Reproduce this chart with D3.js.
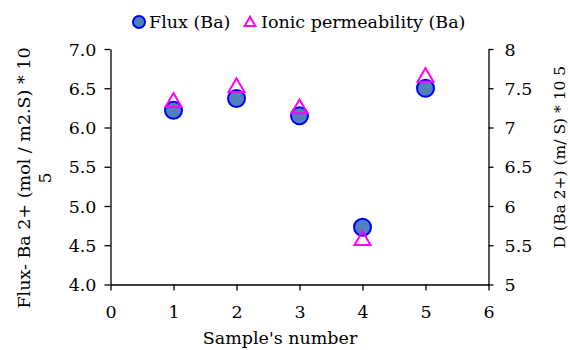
<!DOCTYPE html>
<html><head><meta charset="utf-8">
<script src="https://cdn.jsdelivr.net/npm/d3@7"></script>
<style>
body{margin:0;background:#fff;}
</style></head>
<body><svg id="c" width="570" height="350"></svg>
<script>
const samples = [1, 2, 3, 4, 5];
const flux = [6.22, 6.37, 6.15, 4.73, 6.50];
const permeability = [7.34, 7.53, 7.26, 5.58, 7.66];
const xTicks = [0, 1, 2, 3, 4, 5, 6];
const leftTicks = [4.0, 4.5, 5.0, 5.5, 6.0, 6.5, 7.0];
const rightTicks = [5, 5.5, 6, 6.5, 7, 7.5, 8];

const FONT = "'DejaVu Serif', serif";
const svg = d3.select("#c");
const m = {l:110.5, r:488.5, t:49, b:284.5};
const x = d3.scaleLinear().domain([0,6]).range([m.l, m.r]);
const yL = d3.scaleLinear().domain([4,7]).range([m.b, m.t]);
const yR = d3.scaleLinear().domain([5,8]).range([m.b, m.t]);
const fs = 17.5;

const xa = svg.append("g").attr("transform",`translate(0,${m.b})`)
  .call(d3.axisBottom(x).tickValues(xTicks).tickFormat(d3.format("d")).tickSize(6).tickSizeOuter(0));
xa.selectAll("text").attr("dy",0).attr("y",33);
const la = svg.append("g").attr("transform",`translate(${m.l},0)`)
  .call(d3.axisLeft(yL).tickValues(leftTicks).tickFormat(d3.format(".1f")).tickSize(6).tickSizeOuter(0));
la.selectAll("text").attr("x",-14).attr("dy","0.35em");
const ra = svg.append("g").attr("transform",`translate(${m.r},0)`)
  .call(d3.axisRight(yR).tickValues(rightTicks).tickFormat(d=>String(d)).tickSize(5).tickSizeOuter(0));
ra.selectAll("text").attr("x",16).attr("dy","0.35em");
svg.selectAll(".domain").attr("stroke","#000").attr("stroke-width",1.3);
svg.selectAll(".tick line").attr("stroke","#000").attr("stroke-width",1.3);

svg.append("text").attr("x",280).attr("y",344).attr("text-anchor","middle").text("Sample's number");
const lt = svg.append("text").attr("transform","translate(30,178) rotate(-90)").attr("text-anchor","middle");
lt.append("tspan").attr("x",0).attr("y",0).text("Flux- Ba 2+ (mol / m2.S) * 10");
lt.append("tspan").attr("x",0).attr("y",21).text("5");
const rt = svg.append("text").attr("class","rt").attr("transform","translate(565,157) rotate(-90)").attr("text-anchor","middle").text("D (Ba 2+) (m/ S) * 10 5");

const tri = d3.symbol().type(d3.symbolTriangle).size(110);
svg.append("g").selectAll("circle").data(samples).join("circle")
  .attr("cx",(d)=>x(d)).attr("cy",(d,i)=>yL(flux[i])).attr("r",8.5)
  .attr("fill","#4f81bd").attr("stroke","#0000ff").attr("stroke-width",2);
svg.append("g").selectAll("path").data(samples).join("path")
  .attr("d",tri).attr("transform",(d,i)=>`translate(${x(d)},${yR(permeability[i])+1.5})`)
  .attr("fill","none").attr("stroke","#ff00ff").attr("stroke-width",2);

svg.append("circle").attr("cx",139).attr("cy",22).attr("r",6).attr("fill","#4f81bd").attr("stroke","#0000ff").attr("stroke-width",2);
svg.append("text").attr("x",149).attr("y",28).text("Flux (Ba)");
svg.append("path").attr("d",d3.symbol().type(d3.symbolTriangle).size(50)).attr("transform","translate(250,23)")
  .attr("fill","none").attr("stroke","#ff00ff").attr("stroke-width",2);
svg.append("text").attr("x",261).attr("y",28).text("Ionic permeability (Ba)");

svg.selectAll("text").style("font-family",FONT).style("font-size",fs+"px").attr("fill","#000");
rt.style("font-size","15.5px");
svg.selectAll("g").attr("font-family",null).attr("font-size",null);
</script></body></html>
